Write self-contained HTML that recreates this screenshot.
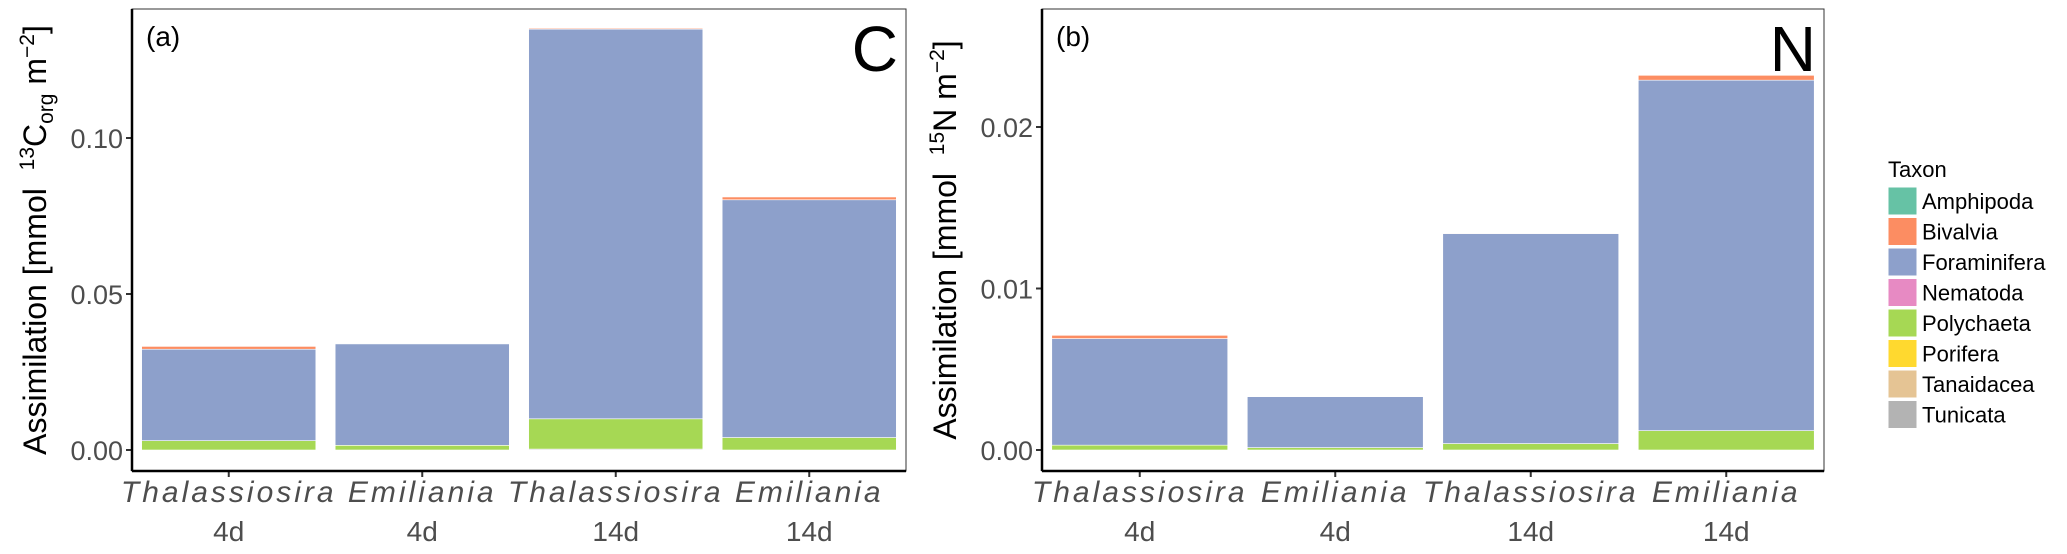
<!DOCTYPE html>
<html><head><meta charset="utf-8"><style>
html,body{margin:0;padding:0;background:#fff;}
svg{display:block;font-family:"Liberation Sans",Arial,sans-serif;}
</style></head><body>
<svg id="chart" width="2067" height="554" viewBox="0 0 2067 554" xmlns="http://www.w3.org/2000/svg">
<g id="panelA"></g>
<g id="panelB"></g>
<g id="legend"></g>
</svg>
<script>
const NS="http://www.w3.org/2000/svg";
const taxa=["Amphipoda","Bivalvia","Foraminifera","Nematoda","Polychaeta","Porifera","Tanaidacea","Tunicata"];
const colors=["#66C2A5","#FC8D62","#8DA0CB","#E78AC3","#A6D854","#FFD92F","#E5C494","#B3B3B3"];
const species=["Thalassiosira","Emiliania","Thalassiosira","Emiliania"];
const durations=["4d","4d","14d","14d"];
const cTunicata=[0,0,0.0003,0];
const cPolychaeta=[0.003,0.0015,0.0097,0.004];
const cForaminifera=[0.0293,0.0325,0.1249,0.0762];
const cBivalvia=[0.0009,0,0.0003,0.0009];
const nTunicata=[0,0,0,0];
const nPolychaeta=[0.0003,0.00015,0.0004,0.0012];
const nForaminifera=[0.0066,0.00315,0.0130,0.0217];
const nBivalvia=[0.0002,0,0.00003,0.0003];
const cTicks=[0,0.05,0.10];
const cTickLabels=["0.00","0.05","0.10"];
const nTicks=[0,0.01,0.02];
const nTickLabels=["0.00","0.01","0.02"];

function el(tag,attrs,parent,text){const e=document.createElementNS(NS,tag);for(const k in attrs)e.setAttribute(k,attrs[k]);if(text!==undefined)e.textContent=text;parent.appendChild(e);return e;}

function panel(g,cfg){
  const {left,right,top,bottom,y0,yPerUnit,ticks,tickLabels,series,label,big,titleX}=cfg;
  const y=v=>y0-v*yPerUnit;
  const frame=el("rect",{x:left,y:top,width:right-left,height:bottom-top,fill:"#fff",stroke:"#333","stroke-width":1},g);
  
  
  const bw=(right-left)/4;
  const barW=bw*0.9;
  for(let i=0;i<4;i++){
    const cx=left+bw*(i+0.5);
    let acc=0;
    series.forEach(s=>{
      const v=s.vals[i]; if(v<=0) return;
      const r=el("rect",{x:cx-barW/2,y:y(acc+v),width:barW,height:v*yPerUnit,fill:s.color,stroke:"#fff","stroke-width":0.6},g);
      
      
      acc+=v;
    });
    el("line",{x1:cx,x2:cx,y1:bottom,y2:bottom+6,stroke:"#333","stroke-width":2},g);
    const t1=el("text",{x:cx,y:bottom+31,"text-anchor":"middle","font-size":30,"font-style":"italic",fill:"#4d4d4d","letter-spacing":"3"},g,species[i]);
    
    
    const t2=el("text",{x:cx,y:bottom+70,"text-anchor":"middle","font-size":28,fill:"#4d4d4d"},g,durations[i]);
    
    
  }
  ticks.forEach((t,k)=>{
    el("line",{x1:left-6,x2:left,y1:y(t),y2:y(t),stroke:"#333","stroke-width":2},g);
    const tl=el("text",{x:left-9,y:y(t)+10,"text-anchor":"end","font-size":27,fill:"#4d4d4d"},g,tickLabels[k]);
    
    
  });
  el("line",{x1:left,x2:left,y1:top,y2:bottom,stroke:"#000","stroke-width":2.5},g);
  el("line",{x1:left,x2:right,y1:bottom,y2:bottom,stroke:"#000","stroke-width":2.5},g);
  const pl=el("text",{x:left+14,y:top+37,"font-size":28,fill:"#000"},g,label);
  
  
  const bl=el("text",{x:right-8,y:top+62,"text-anchor":"end","font-size":64,fill:"#000"},g,big);
  
  
  const tt=el("text",{transform:`translate(${titleX},${(top+bottom)/2}) rotate(-90)`,"text-anchor":"middle","font-size":32,fill:"#000"},g);
  
  
  return tt;
}

const tA=panel(document.getElementById("panelA"),{left:132,right:906,top:9,bottom:471,y0:450,yPerUnit:3120,ticks:cTicks,tickLabels:cTickLabels,label:"(a)",big:"C",titleX:46,
  series:[{name:"Tunicata",vals:cTunicata,color:colors[7]},{name:"Polychaeta",vals:cPolychaeta,color:colors[4]},{name:"Foraminifera",vals:cForaminifera,color:colors[2]},{name:"Bivalvia",vals:cBivalvia,color:colors[1]}]});
tA.innerHTML='Assimilation [mmol&#160;&#160;<tspan dy="-12" font-size="21">13</tspan><tspan dy="12">C</tspan><tspan dy="7" font-size="21">org</tspan><tspan dy="-7"> m</tspan><tspan dy="-12" font-size="21">−2</tspan><tspan dy="12">]</tspan>';

const tB=panel(document.getElementById("panelB"),{left:1042,right:1824,top:9,bottom:471,y0:450,yPerUnit:16150,ticks:nTicks,tickLabels:nTickLabels,label:"(b)",big:"N",titleX:956,
  series:[{name:"Tunicata",vals:nTunicata,color:colors[7]},{name:"Polychaeta",vals:nPolychaeta,color:colors[4]},{name:"Foraminifera",vals:nForaminifera,color:colors[2]},{name:"Bivalvia",vals:nBivalvia,color:colors[1]}]});
tB.innerHTML='Assimilation [mmol&#160;&#160;<tspan dy="-12" font-size="21">15</tspan><tspan dy="12">N m</tspan><tspan dy="-12" font-size="21">−2</tspan><tspan dy="12">]</tspan>';

const lg=document.getElementById("legend");
const lt=el("text",{x:1888,y:177,"font-size":22,fill:"#000"},lg,"Taxon");


taxa.forEach((n,i)=>{
  const yy=187+i*30.5;
  const k=el("rect",{x:1888,y:yy,width:29,height:28,fill:colors[i],stroke:"#fff","stroke-width":1},lg);
  
  
  const t=el("text",{x:1922,y:yy+22,"font-size":22,fill:"#000"},lg,n);
  
  
});
</script>
</body></html>
